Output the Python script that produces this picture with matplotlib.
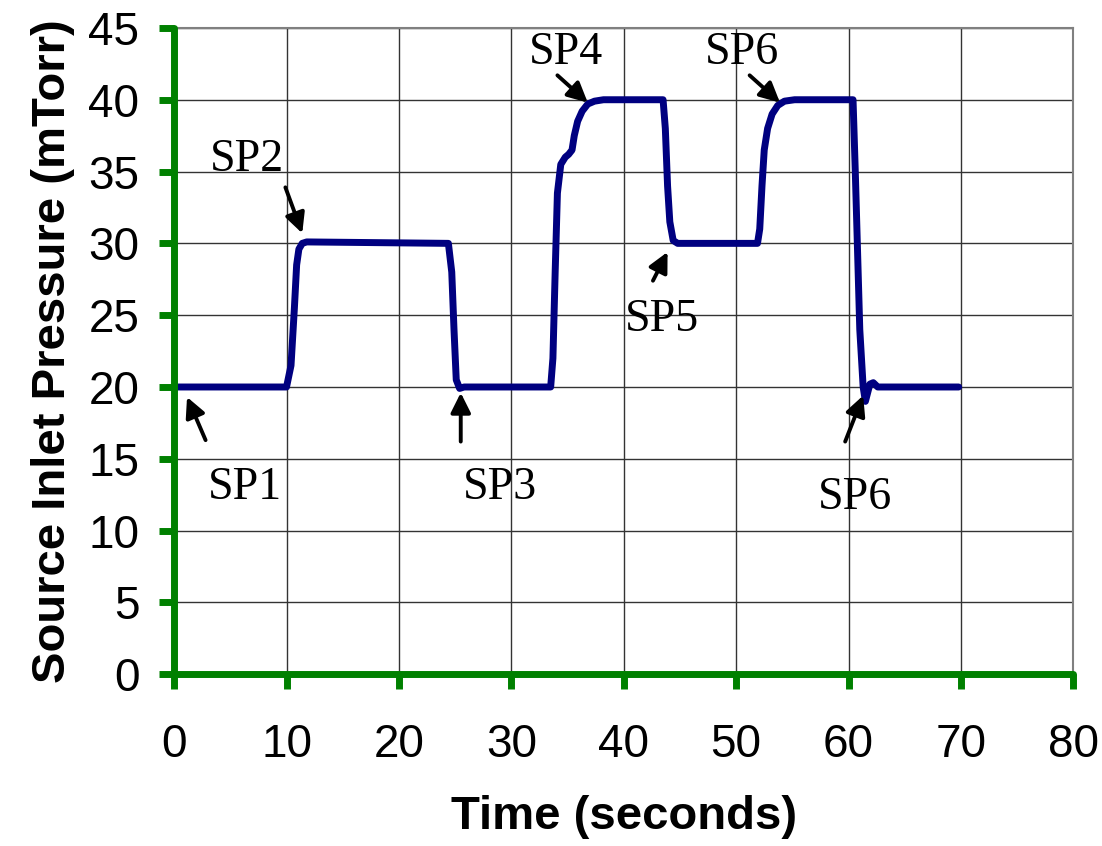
import matplotlib.pyplot as plt

# time trace
time_s = [0, 10.0, 10.4, 10.7, 10.9, 11.1, 11.4, 11.8,
          24.4, 24.7, 24.9, 25.1, 25.4, 25.8,
          33.5, 33.7, 33.9, 34.1, 34.4, 34.8, 35.1, 35.4, 35.6, 35.9, 36.3, 36.8, 37.4, 38.2,
          43.5, 43.7, 43.9, 44.1, 44.4, 44.8,
          51.9, 52.1, 52.3, 52.5, 52.8, 53.2, 53.7, 54.3, 55.2,
          60.4, 60.6, 61.0, 61.3, 61.5, 61.7, 61.9, 62.2, 62.6, 69.8]
pressure = [20, 20, 21.5, 25.5, 28.5, 29.6, 30.0, 30.1,
            30.0, 28, 24, 20.5, 19.9, 20,
            20, 22, 28, 33.5, 35.5, 36.0, 36.2, 36.5, 37.5, 38.5, 39.2, 39.7, 39.9, 40,
            40, 38, 34, 31.5, 30.2, 30,
            30, 31, 34, 36.5, 38.0, 39.0, 39.6, 39.9, 40,
            40, 35, 24, 20, 19.0, 19.6, 20.2, 20.3, 20.0, 20]

# annotation labels: text position, arrow tail, arrow head
labels = ['SP1', 'SP2', 'SP3', 'SP4', 'SP5', 'SP6', 'SP6']
text_xy = [(6.3, 13.0), (6.5, 35.8), (29.0, 13.0), (34.9, 43.3), (43.4, 24.7), (50.5, 43.3), (60.6, 12.3)]
tail_xy = [(2.8, 16.3), (9.9, 33.9), (25.5, 16.2), (34.1, 41.7), (42.6, 27.4), (51.2, 41.7), (59.7, 16.2)]
head_xy = [(1.15, 19.3), (11.4, 30.7), (25.5, 19.6), (36.8, 39.8), (43.9, 29.4), (53.9, 39.8), (61.3, 19.4)]

green = '#008000'

fig = plt.figure(figsize=(11.02, 8.46), dpi=100)
ax = fig.add_axes([0.158, 0.203, 0.816, 0.764])

ax.plot(time_s, pressure, color='#000080', lw=5, solid_capstyle='round', solid_joinstyle='round', zorder=3)

for lab, txy, tl, hd in zip(labels, text_xy, tail_xy, head_xy):
    ax.text(txy[0], txy[1], lab, ha='center', va='center', fontsize=33,
            family='Liberation Serif', zorder=4)
    ax.annotate('', xy=hd, xytext=tl,
                arrowprops=dict(arrowstyle='-|>', lw=2.8, color='k', mutation_scale=30,
                                shrinkA=0, shrinkB=0), zorder=4)

ax.set_xlim(0, 80)
ax.set_ylim(0, 45)
ax.set_xticks(range(0, 81, 10))
ax.set_yticks(range(0, 46, 5))
ax.grid(True, color='#333333', lw=1)
ax.set_axisbelow(True)

for s in ['left', 'bottom']:
    ax.spines[s].set_color(green)
    ax.spines[s].set_linewidth(5)
    ax.spines[s].set_capstyle('round')
    ax.spines[s].set_zorder(5)
for s in ['top', 'right']:
    ax.spines[s].set_color('#808080')
    ax.spines[s].set_linewidth(1.5)

ax.tick_params(axis='x', direction='out', length=11, width=5, color=green, pad=24,
               labelsize=33)
ax.tick_params(axis='y', direction='out', length=11, width=5, color=green, pad=14,
               labelsize=33)
for t in ax.get_xticklabels() + ax.get_yticklabels():
    t.set_family('Liberation Sans')

ax.set_xlabel('Time (seconds)', fontsize=34, fontweight='bold', family='Liberation Sans', labelpad=20)
ax.set_ylabel('Source Inlet Pressure (mTorr)', fontsize=34, fontweight='bold', family='Liberation Sans', labelpad=10)

fig.savefig('out.png', dpi=100)
